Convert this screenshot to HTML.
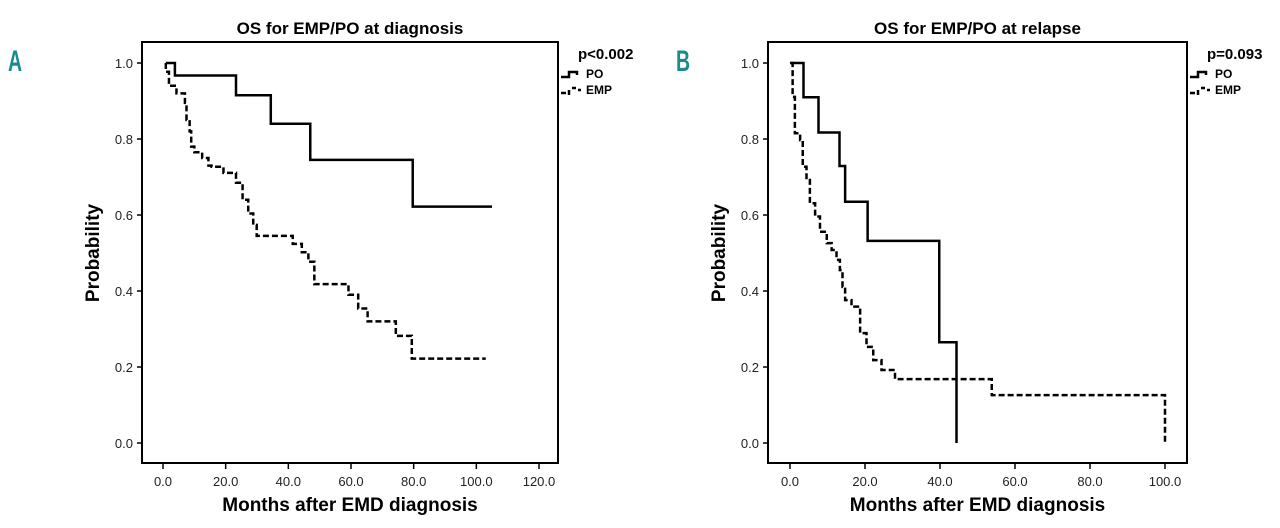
<!DOCTYPE html>
<html><head><meta charset="utf-8"><style>
body{margin:0;background:#fff;width:1280px;height:523px;overflow:hidden}
svg{font-family:"Liberation Sans",Arial,sans-serif}
</style></head><body>
<svg id="chart" width="1280" height="523" viewBox="0 0 1280 523"></svg>
<script>
// Panel A data
const aPOTimes=[0.9,3.8,23.3,34.4,47,79.7,105];
const aPOVals=[1.0,0.967,0.915,0.84,0.745,0.622,0.622];
const aEMPTimes=[0.9,1.9,4.3,7,7.5,8.5,9,10,12.5,14.5,15.5,19.3,23.3,25.4,27.2,28.8,29.9,41.4,44.3,46.4,48.3,59.2,62.3,65.3,74.3,79.4,103];
const aEMPVals=[0.977,0.94,0.92,0.895,0.85,0.82,0.78,0.765,0.75,0.73,0.727,0.711,0.685,0.64,0.604,0.574,0.545,0.524,0.502,0.477,0.418,0.39,0.354,0.32,0.282,0.222,0.222];
const aXTicks=[0,20,40,60,80,100,120];
// Panel B data
const bPOTimes=[0,3.6,7.6,13.2,14.7,20.7,39.8,44.4,44.4];
const bPOVals=[1.0,0.91,0.817,0.729,0.635,0.532,0.265,0.265,0];
const bEMPTimes=[0.2,0.7,1.3,2.7,3.4,4.4,5.3,6.7,8,9.8,11.1,12.4,13.3,14,14.7,16.4,18.7,20.4,22.2,24.4,28,53.8,100,100];
const bEMPVals=[1.0,0.911,0.815,0.797,0.727,0.692,0.631,0.596,0.556,0.526,0.508,0.482,0.455,0.411,0.376,0.359,0.289,0.253,0.218,0.192,0.168,0.126,0.126,0];
const bXTicks=[0,20,40,60,80,100];
const yTicks=[0,0.2,0.4,0.6,0.8,1.0];

const NS="http://www.w3.org/2000/svg";
const svg=document.getElementById('chart');
function mk(tag,attrs,parent){const e=document.createElementNS(NS,tag);for(const k in attrs)e.setAttribute(k,attrs[k]);(parent||svg).appendChild(e);return e;}

function panel(cfg){
  const g=mk('g',{});
  
  
  const X=v=>cfg.x0+v*cfg.pxPerX, Y=v=>443-v*380;
  const f=mk('rect',{x:cfg.left,y:42,width:cfg.right-cfg.left,height:421,fill:'none',stroke:'#000','stroke-width':2},g);
  
  
  yTicks.forEach(t=>{
    const l=mk('line',{x1:cfg.left-5,x2:cfg.left,y1:Y(t),y2:Y(t),stroke:'#000','stroke-width':1.5},g);
    
    
    const tx=mk('text',{x:cfg.left-9,y:Y(t)+5,'text-anchor':'end','font-size':13,fill:'#222'},g);
    tx.textContent=t.toFixed(1);
    
    
  });
  cfg.xTicks.forEach(t=>{
    const l=mk('line',{x1:X(t),x2:X(t),y1:463,y2:469,stroke:'#000','stroke-width':1.5},g);
    
    
    const tx=mk('text',{x:X(t),y:486,'text-anchor':'middle','font-size':13,fill:'#222'},g);
    tx.textContent=t.toFixed(1);
    
    
  });
  function step(times,vals,dash,name){
    let d='M'+X(times[0])+','+Y(1)+' L'+X(times[0])+','+Y(vals[0]);
    for(let i=1;i<times.length;i++){d+=' L'+X(times[i])+','+Y(vals[i-1])+' L'+X(times[i])+','+Y(vals[i]);}
    const p=mk('path',{d:d,fill:'none',stroke:'#000','stroke-width':2.5,'stroke-dasharray':dash?'6,3':'none'},g);
    
    
  }
  step(cfg.po[0],cfg.po[1],false,'po-survival-curve');
  step(cfg.emp[0],cfg.emp[1],true,'emp-survival-curve');
  const ti=mk('text',{x:(cfg.left+cfg.right)/2,y:34,'text-anchor':'middle','font-size':17,'font-weight':'bold'},g);
  ti.textContent=cfg.title;
  
  
  const xt=mk('text',{x:(cfg.left+cfg.right)/2,y:511,'text-anchor':'middle','font-size':19,'font-weight':'bold'},g);
  xt.textContent='Months after EMD diagnosis';
  
  
  const yt=mk('text',{x:0,y:0,'text-anchor':'middle','font-size':19,'font-weight':'bold',transform:'translate('+(cfg.left-43)+',253) rotate(-90)'},g);
  yt.textContent='Probability';
  
  
  const pv=mk('text',{x:cfg.right+20,y:59,'font-size':15,'font-weight':'bold'},g);
  pv.textContent=cfg.p;
  
  
  const L=cfg.right+3;
  const l1=mk('path',{d:`M${L},77 h8 v-5 h8 v3`,fill:'none',stroke:'#000','stroke-width':2.5},g);
  
  
  const t1=mk('text',{x:L+25,y:78,'font-size':12,'font-weight':'bold'},g);t1.textContent='PO';
  
  
  const l2=mk('path',{d:`M${L},93 h5 M${L+8},95 v-5 M${L+11},88 h4 M${L+17},90 h3`,fill:'none',stroke:'#000','stroke-width':2.5},g);
  
  
  const t2=mk('text',{x:L+25,y:94,'font-size':12,'font-weight':'bold'},g);t2.textContent='EMP';
  
  
  const pl=mk('text',{x:0,y:0,'font-size':30,'font-weight':'bold',fill:'#1a8c8a',transform:'translate('+cfg.labelX+',71) scale(0.65,1)'},g);
  pl.textContent=cfg.id;
  
  
}
panel({id:'A',left:142,right:558,x0:163,pxPerX:376/120,xTicks:aXTicks,po:[aPOTimes,aPOVals],emp:[aEMPTimes,aEMPVals],title:'OS for EMP/PO at diagnosis',p:'p<0.002',labelX:8});
panel({id:'B',left:768,right:1187,x0:790,pxPerX:3.75,xTicks:bXTicks,po:[bPOTimes,bPOVals],emp:[bEMPTimes,bEMPVals],title:'OS for EMP/PO at relapse',p:'p=0.093',labelX:676});
</script>
</body></html>
